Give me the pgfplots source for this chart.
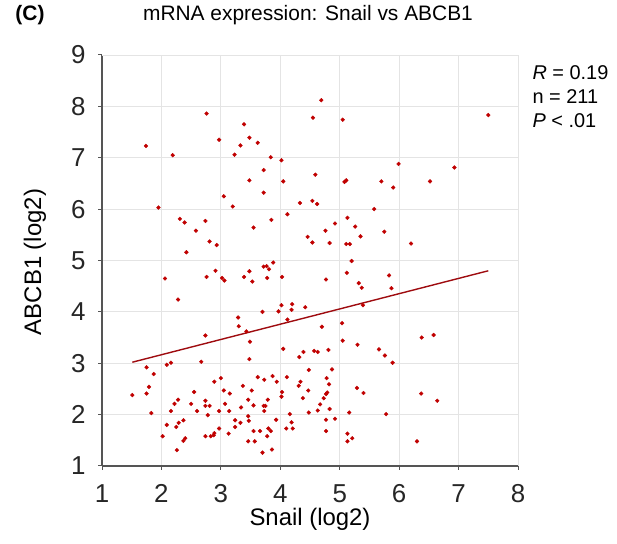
\documentclass[border=0pt]{standalone}
\usepackage{pgfplots}
\pgfplotsset{compat=1.18}
\usepackage{fontspec}
\setmainfont{Liberation Sans}
\definecolor{dotred}{HTML}{C00000}
\definecolor{linered}{HTML}{9E0B0F}
\definecolor{gridgray}{HTML}{E4E4E4}
\definecolor{axgray}{HTML}{555555}
\begin{document}
\begin{tikzpicture}[x=1bp,y=1bp]
\path (0,0) rectangle (617,544);
\begin{axis}[
  at={(102bp,78bp)}, anchor=south west,
  scale only axis, width=416bp, height=411bp,
  xmin=1, xmax=8, ymin=1, ymax=9,
  xtick={1,...,8}, ytick={1,...,9},
  axis lines=left, axis line style={-, axgray, line width=1.3bp},
  grid=major, major grid style={gridgray, line width=0.8bp},
  tick align=outside, major tick length=4bp,
  tick style={axgray, line width=1bp},
  /pgf/number format/assume math mode=true,
  tick label style={font=\fontsize{26}{28}\selectfont, text=black!85},
  xticklabel style={yshift=-11bp},
  yticklabel style={xshift=-9bp},
  clip=false,
]
\draw[gridgray, line width=0.8bp] (rel axis cs:0,1) -- (rel axis cs:1,1) -- (rel axis cs:1,0);
\addplot[only marks, mark=*, mark size=1.9bp, color=dotred] coordinates {
(1.74,7.23)(2.19,7.05)(2.76,7.86)(2.97,7.35)(3.23,7.06)(3.33,7.24)(3.39,7.65)(3.48,7.39)(3.48,6.56)
(4.69,8.12)(4.55,7.78)(5.05,7.74)(3.62,7.29)(3.84,7.01)(4.02,6.95)(3.72,6.76)(4.05,6.54)(4.59,6.67)
(5.08,6.53)(5.11,6.56)(5.70,6.54)(5.90,6.42)(5.99,6.88)(7.50,7.83)(6.93,6.81)(6.52,6.54)
(1.95,6.03)(3.05,6.25)(3.20,6.05)(2.31,5.81)(2.39,5.74)(2.74,5.77)(2.58,5.58)(3.55,5.64)(2.81,5.37)
(2.93,5.30)(2.42,5.16)(2.91,4.80)(2.76,4.68)(2.06,4.65)(3.02,4.66)(3.06,4.61)(3.39,4.68)(3.48,4.79)
(3.53,4.59)(2.28,4.24)(3.29,3.89)
(3.72,6.32)(4.33,6.12)(4.54,6.16)(4.62,6.10)(5.58,6.00)(4.12,5.90)(3.85,5.79)(5.13,5.83)(4.92,5.72)
(5.26,5.66)(4.76,5.58)(5.75,5.56)(4.46,5.46)(4.54,5.35)(4.83,5.34)(5.35,5.47)(5.11,5.32)(5.17,5.32)
(6.20,5.33)(5.20,4.99)(3.72,4.88)(3.77,4.89)(3.81,4.83)(3.88,4.96)(3.78,4.66)(4.03,4.68)(4.77,4.63)
(5.12,4.76)(5.83,4.71)(5.32,4.56)(5.37,4.47)(5.87,4.46)(4.02,4.13)(4.20,4.15)(4.42,4.09)(3.70,4.00)
(3.97,4.01)(4.19,4.04)(5.39,4.13)(4.12,3.85)(5.04,3.78)
(2.74,3.54)(3.30,3.72)(3.43,3.62)(3.49,3.42)(3.48,3.08)(2.67,3.03)(2.09,2.97)(2.16,3.01)(1.75,2.92)
(1.87,2.79)(1.79,2.54)(1.75,2.41)(1.51,2.38)(1.83,2.03)(2.89,2.64)(3.00,2.71)(2.55,2.44)(3.05,2.47)
(3.15,2.41)(3.37,2.56)(3.52,2.47)(2.28,2.29)(2.22,2.21)(2.16,2.07)(2.50,2.21)(2.60,2.07)(2.74,2.27)
(2.74,2.17)(2.81,2.17)(3.07,2.21)(3.46,2.29)(3.55,2.18)(2.97,2.07)(3.14,2.07)(3.34,2.14)(2.78,1.99)
(3.46,1.97)(3.47,1.88)(3.24,1.89)(3.33,1.84)(2.37,1.89)(2.29,1.84)(2.09,1.80)(2.25,1.76)(3.24,1.76)
(2.97,1.73)(3.55,1.68)(2.02,1.58)(2.74,1.58)(2.83,1.58)(2.88,1.60)(2.89,1.64)(3.13,1.63)(2.40,1.54)
(2.37,1.49)(2.26,1.31)(3.46,1.48)(3.57,1.48)
(4.70,3.71)(5.05,3.44)(5.30,3.36)(4.05,3.28)(4.39,3.22)(4.32,3.12)(4.57,3.24)(4.63,3.22)(4.81,3.26)
(5.66,3.27)(5.76,3.15)(5.89,3.01)(4.48,2.87)(4.87,2.88)(3.62,2.73)(3.73,2.68)(3.87,2.75)(3.94,2.64)
(4.11,2.73)(4.34,2.64)(4.31,2.56)(4.78,2.71)(4.82,2.59)(4.47,2.47)(4.79,2.43)(4.77,2.40)(4.73,2.32)
(4.67,2.20)(4.38,2.32)(4.03,2.44)(4.02,2.35)(3.79,2.29)(3.72,2.17)(3.75,2.17)(3.73,2.07)(5.29,2.52)
(5.40,2.42)(4.83,2.11)(4.48,2.04)(4.63,2.08)(5.16,2.04)(4.16,2.01)(3.93,1.90)(4.92,1.92)(4.77,1.90)
(5.78,2.01)(4.19,1.85)(4.10,1.73)(4.21,1.73)(3.66,1.68)(3.80,1.73)(3.84,1.68)(3.78,1.58)(4.77,1.68)
(5.13,1.63)(5.21,1.54)(5.13,1.48)(3.70,1.26)(3.86,1.32)
(6.38,3.50)(6.58,3.55)(6.37,2.41)(6.64,2.27)(6.30,1.48)
};
\addplot[linered, line width=1.4bp] coordinates {(1.51,3.02)(7.50,4.80)};
\end{axis}
\node[font=\fontsize{21}{24}\selectfont] at (308,529) {mRNA expression: Snail vs ABCB1};
\node[font=\bfseries\fontsize{21}{24}\selectfont] at (30,529) {(C)};
\node[font=\fontsize{24}{26}\selectfont] at (310,25) {Snail (log2)};
\node[font=\fontsize{24}{26}\selectfont, rotate=90] at (35,282) {ABCB1 (log2)};
\node[anchor=west, font=\fontsize{20}{22}\selectfont] at (529,471) {\textit{R} = 0.19};
\node[anchor=west, font=\fontsize{20}{22}\selectfont] at (529,447) {n = 211};
\node[anchor=west, font=\fontsize{20}{22}\selectfont] at (529,423) {\textit{P} < .01};
\end{tikzpicture}
\end{document}
